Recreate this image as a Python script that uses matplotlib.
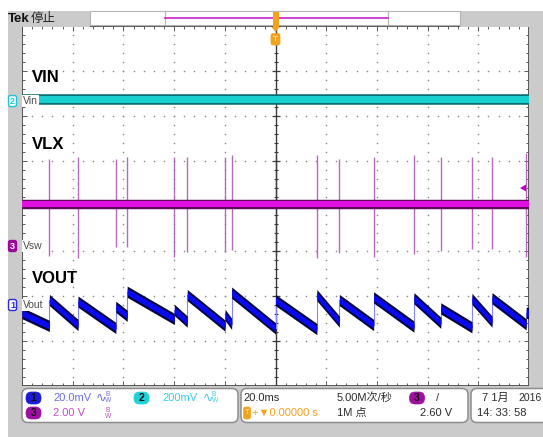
import matplotlib
matplotlib.use("Agg")
import matplotlib.pyplot as plt
from matplotlib.patches import FancyBboxPatch, Rectangle, Polygon
import numpy as np

plt.rcParams["font.family"] = ["Liberation Sans", "Noto Sans CJK SC", "DejaVu Sans"]

W, H = 543, 437          # canvas, px
PX_DIV_X = 50.7          # px per horizontal division
PX_DIV_Y = 45.0          # px per vertical division
Y_MID = 206.0            # px row of the graticule centre

# ---- acquisition settings ----
T_PER_DIV = 20.0         # ms/div
CH1_SCALE = 20.0         # mV/div  (VOUT)
CH2_SCALE = 200.0        # mV/div  (VIN)
CH3_SCALE = 2.0          # V/div   (VLX)
CH1_POS = -2.2           # ground markers, divisions from centre
CH2_POS = 2.333
CH3_POS = -0.889

# ---- VIN (ch2) ----
VIN_T_MS = [-100.0, 100.0]
VIN_MV = [7.0, 7.0]

# ---- VLX (ch3): flat level with narrow switching spikes ----
VLX_LEVEL_V = 1.87
VLX_SPIKE_MS = [-89.2, -77.9, -63.0, -58.5, -39.9, -34.8, -19.9, -17.3, 0.0,
                16.3, 25.2, 38.7, 54.6, 65.2, 77.5, 85.4, 98.9]
VLX_SPIKE_HI_V = [3.85, 3.97, 3.87, 3.96, 3.96, 3.96, 3.97, 4.04, 4.04,
                  4.04, 3.87, 3.97, 4.04, 3.94, 3.96, 3.96, 4.13]
VLX_SPIKE_LO_V = [-0.44, -0.53, -0.03, -0.04, -0.48, -0.25, -0.25, -0.18, -0.40,
                  -0.53, -0.30, -0.48, -0.36, -0.21, -0.15, -0.13, -0.48]

# ---- VOUT (ch1): sawtooth, one ramp between consecutive edges ----
VOUT_EDGE_MS = [-100.0, -89.2, -77.9, -63.0, -58.5, -39.9, -34.8, -19.9, -17.3, 0.0,
                16.3, 25.2, 38.7, 54.6, 65.2, 77.5, 85.4, 98.9, 100.0]
VOUT_START_MV = [-3.6, 2.2, 1.5, -0.8, 5.9, -2.2, 4.4, -4.4, 5.5,
                 2.2, 4.4, 2.2, 3.4, 3.0, -1.5, 2.7, 3.0, -3.4]
VOUT_END_MV = [-9.3, -8.9, -10.2, -4.8, -6.2, -7.4, -9.2, -8.4, -10.4,
               -10.7, -7.4, -8.9, -9.6, -7.9, -9.9, -7.4, -8.6, -3.6]


def ch(values, scale, pos):
    return np.asarray(values, dtype=float) / scale + pos


def row(div):
    return Y_MID - div * PX_DIV_Y


fig = plt.figure(figsize=(W / 100, H / 100), dpi=100)

# ---------- screen furniture (pixel coordinates) ----------
bg = fig.add_axes([0, 0, 1, 1])
bg.set_xlim(0, W); bg.set_ylim(H, 0); bg.axis("off")
GRAY = "#cbcbcb"
bg.add_patch(Rectangle((8, 11), 14, H - 11, color=GRAY, lw=0))
bg.add_patch(Rectangle((529, 11), 14, H - 11, color=GRAY, lw=0))
bg.add_patch(Rectangle((8, 11), 82, 16, color=GRAY, lw=0))
bg.add_patch(Rectangle((460, 11), 83, 16, color=GRAY, lw=0))
bg.add_patch(Rectangle((8, 386), W - 8, H - 386, color=GRAY, lw=0))
bg.add_patch(Rectangle((90, 11), 370, 14, fc="white", ec="#b5b5b5", lw=0.8))
for xs in (165, 388):
    bg.plot([xs, xs], [11, 25], color="#b5b5b5", lw=0.8)
bg.plot([165, 388], [18, 18], color="#d030d0", lw=1.3)

bg.text(8, 19, "Tek", fontsize=9.5, fontweight="bold", va="center", color="#111111")
bg.text(31, 19, "停止", fontsize=9, va="center", color="#222222")

# trigger position marker
ORANGE = "#f3a21b"
bg.add_patch(Rectangle((272.5, 12), 6, 16, color=ORANGE, lw=0, zorder=5))
bg.add_patch(Polygon([(271.5, 27), (279.5, 27), (275.5, 32)], color=ORANGE, lw=0, zorder=5))
bg.add_patch(FancyBboxPatch((271, 33.5), 9, 11.5, boxstyle="round,pad=0,rounding_size=2",
                            fc=ORANGE, ec=ORANGE, lw=0.5, zorder=5))
bg.text(275.5, 39.5, "T", fontsize=6, color="#fff1d6", ha="center", va="center", zorder=6)

# trigger level arrow
bg.add_patch(Polygon([(520, 188), (526, 184.5), (526, 191.5)], color="#c000c0", lw=0, zorder=5))

# channel ground markers and names
def marker(y, num, color, filled):
    bg.add_patch(FancyBboxPatch((8.5, y - 5.5), 8, 11, boxstyle="round,pad=0,rounding_size=2",
                                fc=color if filled else "white", ec=color, lw=1.0, zorder=6))
    bg.text(12.5, y, num, fontsize=6.5, ha="center", va="center", zorder=7,
            color="white" if filled else color, fontweight="bold")

marker(row(CH2_POS), "2", "#19c8d2", False)
marker(row(CH3_POS), "3", "#9a0a9a", True)
marker(row(CH1_POS), "1", "#2a2ae0", False)

# bottom readout panels
for x0, w in ((22, 216), (241, 227), (471, 90)):
    bg.add_patch(FancyBboxPatch((x0, 388.5), w, 34, boxstyle="round,pad=0,rounding_size=6",
                                fc="white", ec="#8e8e8e", lw=1.1))


def badge(x, y, num, color):
    bg.add_patch(FancyBboxPatch((x - 7.5, y - 6), 15, 12, boxstyle="round,pad=0,rounding_size=5.5",
                                fc=color, ec=color, lw=0.5))
    bg.text(x, y, num, fontsize=7.5, ha="center", va="center", color="#111111", fontweight="bold")


def bw_icon(x, y, color, wave=True):
    if wave:
        bg.text(x, y, "∿", fontsize=9, va="center", color=color, family="DejaVu Sans")
    bg.text(x + 9, y - 3, "B", fontsize=4.8, va="center", color=color)
    bg.text(x + 9, y + 3, "W", fontsize=4.8, va="center", color=color)


R1, R2 = 398, 413
FS = 8
badge(33.5, R1, "1", "#1c1cd8")
bg.text(53, R1, "20.0mV", fontsize=FS, va="center", color="#6f6fe6")
bw_icon(96, R1, "#6f6fe6")
badge(141.5, R1, "2", "#1fd2d8")
bg.text(162, R1, "200mV", fontsize=FS, va="center", color="#3ccde6")
bw_icon(203, R1, "#3ccde6")
badge(33.5, R2, "3", "#a010a0")
bg.text(53, R2, "2.00 V", fontsize=FS, va="center", color="#c24cc8")
bw_icon(96, R2, "#c24cc8", wave=False)

DARK = "#2b2b2b"
bg.text(243, R1, "20.0ms", fontsize=FS, va="center", color=DARK)
bg.add_patch(FancyBboxPatch((243.5, R2 - 6), 7, 12, boxstyle="round,pad=0,rounding_size=2",
                            fc=ORANGE, ec=ORANGE, lw=0.5))
bg.text(247, R2, "T", fontsize=5.5, ha="center", va="center", color="#fff1d6")
bg.text(252, R2, "+▼0.00000 s", fontsize=FS, va="center", color=ORANGE)
bg.text(337, R1, "5.00M次/秒", fontsize=FS, va="center", color=DARK)
bg.text(337, R2, "1M 点", fontsize=FS, va="center", color=DARK)
badge(417, R1, "3", "#a010a0")
bg.text(436, R1, "/", fontsize=FS, va="center", color=DARK)
bg.text(420, R2, "2.60 V", fontsize=FS, va="center", color=DARK)
bg.text(482, R1, "7 1月", fontsize=FS, va="center", color=DARK)
bg.text(518, R1, "2016", fontsize=7.5, va="center", color=DARK)
bg.text(477, R2, "14: 33: 58", fontsize=FS, va="center", color=DARK)

# ---------- graticule ----------
ax = fig.add_axes([22 / W, (H - 386) / H, 10 * PX_DIV_X / W, 8 * PX_DIV_Y / H])
ax.set_xlim(-5 * T_PER_DIV, 5 * T_PER_DIV)
ax.set_ylim(-4, 4)
ax.set_facecolor("white")
for s in ax.spines.values():
    s.set_color("#4a4a4a"); s.set_linewidth(1.3)
ax.set_xticks(np.arange(-100, 101, 20))
ax.set_xticks(np.arange(-100, 101, 4), minor=True)
ax.set_yticks(np.arange(-4, 5, 1))
ax.set_yticks(np.arange(-4, 4.01, 0.2), minor=True)
ax.tick_params(which="both", direction="in", top=True, right=True, labelbottom=False,
               labelleft=False, color="#5a5a5a", width=0.7)
ax.tick_params(which="major", length=3.5)
ax.tick_params(which="minor", length=2.0)

gx = np.arange(-100, 101, 4)
gy = np.arange(-4, 4.01, 0.2)
for xv in (-80, -60, -40, -20, 20, 40, 60, 80):
    ax.scatter(np.full_like(gy, xv), gy, s=1.3, color="#8a8a8a", lw=0, zorder=1)
for yv in (-3, -2, -1, 1, 2, 3):
    ax.scatter(gx, np.full_like(gx, yv, dtype=float), s=1.3, color="#8a8a8a", lw=0, zorder=1)

ax.axvline(0, color="#3c3c3c", lw=1.0, zorder=3)
ax.axhline(0, color="#3c3c3c", lw=1.0, zorder=1.5)
ax.plot(np.zeros_like(gy), gy, ls="none", marker="_", ms=3, mew=0.8, color="#3c3c3c", zorder=3)
ax.plot(np.zeros(9), np.arange(-4, 5), ls="none", marker="_", ms=6, mew=0.9, color="#3c3c3c", zorder=3)
ax.plot(gx, np.zeros_like(gx, dtype=float), ls="none", marker="|", ms=3, mew=0.8, color="#3c3c3c", zorder=1.5)

# ---------- traces ----------
# VIN
vin = ch(VIN_MV, CH2_SCALE, CH2_POS)
ax.plot(VIN_T_MS, vin, color="#0b6f72", lw=7.6, solid_capstyle="butt", zorder=4)
ax.plot(VIN_T_MS, vin, color="#18d0d0", lw=5.0, solid_capstyle="butt", zorder=4)

# VLX spikes and level
ax.vlines(VLX_SPIKE_MS, ch(VLX_SPIKE_LO_V, CH3_SCALE, CH3_POS), ch(VLX_SPIKE_HI_V, CH3_SCALE, CH3_POS),
          color="#b86abd", lw=1.0, zorder=2)
vlx = ch([VLX_LEVEL_V, VLX_LEVEL_V], CH3_SCALE, CH3_POS)
ax.plot([-100, 100], vlx, color="#5c0a5c", lw=6.8, solid_capstyle="butt", zorder=4)
ax.plot([-100, 100], vlx, color="#e010e0", lw=4.4, solid_capstyle="butt", zorder=4)

# VOUT ramps, drawn as bands with vertical ends
v0 = ch(VOUT_START_MV, CH1_SCALE, CH1_POS)
v1 = ch(VOUT_END_MV, CH1_SCALE, CH1_POS)
for i in range(1, len(VOUT_START_MV)):
    ax.plot([VOUT_EDGE_MS[i]] * 2, [v1[i - 1], v0[i]], color="#8484ff", lw=0.8, zorder=4)
for i in range(len(VOUT_START_MV)):
    t = [VOUT_EDGE_MS[i], VOUT_EDGE_MS[i + 1]]
    v = np.array([v0[i], v1[i]])
    ax.fill_between(t, v - 0.125, v + 0.125, color="#05053a", lw=0, zorder=4)
    ax.fill_between(t, v - 0.07, v + 0.07, color="#0a0af2", lw=0, zorder=4)

# trace names
for y, name in ((row(CH2_POS), "Vin"), (row(CH3_POS), "Vsw"), (row(CH1_POS), "Vout")):
    bg.text(23, y, name, fontsize=7.5, va="center", color="#4a4a4a", zorder=8,
            bbox=dict(fc="white", ec="none", pad=0.6))
for y, name in ((82, "VIN"), (149, "VLX"), (283, "VOUT")):
    bg.text(32, y, name, fontsize=12, fontweight="bold", va="baseline", color="black", zorder=8)

# furniture drawn after the graticule axes so markers sit on top
bg.set_zorder(ax.get_zorder() + 1)
bg.patch.set_alpha(0)

fig.savefig("out.png", dpi=100)
